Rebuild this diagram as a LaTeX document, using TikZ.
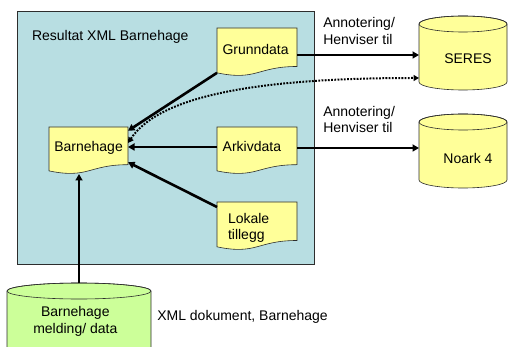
\documentclass[tikz,border=0pt]{standalone}
\usepackage{fontspec}
\setmainfont{Liberation Sans}
\usetikzlibrary{calc,arrows.meta}

\definecolor{boxblue}{RGB}{184,222,226}
\definecolor{docyellow}{RGB}{255,255,153}
\definecolor{dbgreen}{RGB}{204,255,153}
\definecolor{outlinec}{RGB}{45,45,45}

% document shape outline around a named (invisible) node
\newcommand{\docpath}[1]{%
  \filldraw[shapeline, fill=docyellow] (#1.north west) -- (#1.north east)
    -- ($(#1.north east)!0.802!(#1.south east)$)
    .. controls ($(#1.north)!0.802!(#1.south)$) and ($(#1.north)!1.1075!(#1.south)$)
    .. ($(#1.north west)!0.934!(#1.south west)$) -- cycle;}
% cylinder outline: #1 node, #2 y radius, #3 fill, #4 x radius
\newcommand{\cylpath}[4]{%
  \filldraw[shapeline, fill=#3] ($(#1.north west)+(0,#2)$) -- ($(#1.south west)+(0,-#2)$)
    arc[start angle=180, end angle=360, x radius=#4pt, y radius=#2pt]
    -- ($(#1.north east)+(0,#2)$)
    arc[start angle=0, end angle=180, x radius=#4pt, y radius=#2pt] -- cycle;
  \draw[shapeline] ($(#1.north)+(0,#2)$) ellipse[x radius=#4pt, y radius=#2pt];}

\tikzset{
  shapeline/.style={draw=outlinec, line width=0.6pt},
  place/.style={draw=none, inner sep=0pt, outer sep=0pt, anchor=north west},
  lbl/.style={inner sep=0pt, outer sep=0pt, anchor=base west, align=left},
  conn/.style={line width=2.6pt, -{Triangle[length=6.5pt,width=7pt]}},
  dotconn/.style={line width=2pt, dash pattern=on 1.8pt off 1.4pt,
    {Triangle[length=5.5pt,width=6pt]}-{Triangle[length=5.5pt,width=6pt]}},
}

\begin{document}
\begin{tikzpicture}[x=1pt, y=-1pt, font=\fontsize{14}{16.5}\selectfont]
\useasboundingbox (0,0) rectangle (508,347);
\begin{scope}
\clip (0,0) rectangle (508,347);

% frame
\node[place, minimum width=297pt, minimum height=253pt, fill=boxblue, draw=outlinec, line width=0.8pt] (res) at (17,11) {};

% documents
\node[place, minimum width=80pt, minimum height=48pt] (grund) at (217,28) {};
\node[place, minimum width=79pt, minimum height=47pt] (barn) at (49,127) {};
\node[place, minimum width=80pt, minimum height=47pt] (ark) at (217,127) {};
\node[place, minimum width=80pt, minimum height=48pt] (lok) at (217,202) {};
\docpath{grund}
\docpath{barn}
\docpath{ark}
\docpath{lok}

% cylinders
\node[place, minimum width=88pt, minimum height=74pt] (seres) at (419,16) {};
\node[place, minimum width=88pt, minimum height=74pt] (noark) at (419,114) {};
\node[place, minimum width=144pt, minimum height=80pt] (meld) at (7,283) {};
\cylpath{seres}{8}{docyellow}{44}
\cylpath{noark}{8}{docyellow}{44}
\cylpath{meld}{8}{dbgreen}{72}

% connector end points
\coordinate (gOut) at ($(grund.east)+(0,3)$);
\coordinate (aOut) at ($(ark.east)+(0,-2.5)$);

% connectors
\draw[conn] ($(grund.north west)!0.934!(grund.south west)$) -- ($(barn.north east)!0.08!(barn.south east)$);
\draw[conn] ($(ark.west)+(0,-3.5)$) -- ($(barn.east)+(0,-3.5)$);
\draw[conn] ($(lok.north west)+(0,5)$) -- ($(barn.north east)!0.75!(barn.south east)$);
\draw[conn] (meld.north) -- ($(barn.south west)+(30,0)$);
\draw[conn] (gOut) -- (gOut -| seres.west);
\draw[conn] (aOut) -- (aOut -| noark.west);
\draw[dotconn] ($(barn.east)+(0,-7.5)$) .. controls (160,95) and (260,78) .. ($(seres.west)+(0,25)$);

% texts
\node[lbl] (title) at (32,40.5) {Resultat XML Barnehage};
\node[lbl] (grundT) at (222.5,54.3) {Grunndata};
\node[lbl] (barnT) at (54.3,151.7) {Barnehage};
\node[lbl] (arkT) at (222.7,151.7) {Arkivdata};
\node[lbl] (lokT) at (228,239.5) {Lokale\\tillegg};
\node[lbl] (ann1) at (323.3,44.5) {Annotering/\\Henviser til};
\node[lbl] (ann2) at (323.3,132.8) {Annotering/\\Henviser til};
\node[lbl, anchor=base] (seresT) at (468,64) {SERES};
\node[lbl, anchor=base] (noarkT) at (468,163.3) {Noark 4};
\node[lbl, anchor=base, align=center] (meldT) at (75.3,333.2) {Barnehage\\melding/ data};
\node[lbl] (xmlT) at (157.3,320.7) {XML dokument, Barnehage};
\end{scope}
\end{tikzpicture}
\end{document}
